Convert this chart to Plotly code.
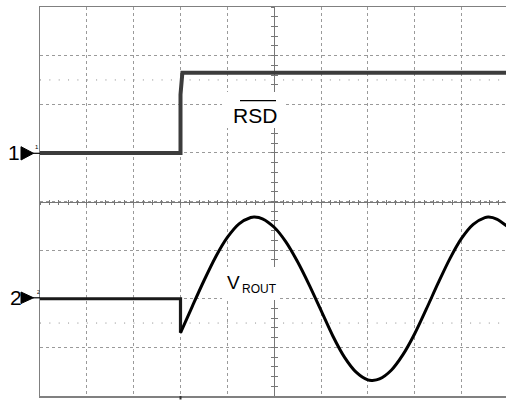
import plotly.graph_objects as go

# ---- data (time and amplitude in screen divisions) ----
ch1_time = [0.0, 3.0, 3.0, 3.04, 10.0]
ch1_level = [1.0, 1.0, 2.2, 2.65, 2.65]

ch2_time = [0.0, 3.0, 3.0, 3.25, 3.5, 3.75, 4.0, 4.25, 4.5, 4.58, 4.75, 5.0, 5.25, 5.5,
            5.75, 6.0, 6.25, 6.5, 6.75, 7.0, 7.1, 7.25, 7.5, 7.75, 8.0, 8.25, 8.5, 8.75,
            9.0, 9.25, 9.5, 9.58, 9.75, 10.0]
ch2_level = [-2.0, -2.0, -2.70, -2.16, -1.63, -1.14, -0.74, -0.46, -0.33, -0.32, -0.355,
             -0.53, -0.83, -1.24, -1.72, -2.24, -2.76, -3.20, -3.51, -3.67, -3.68, -3.65,
             -3.47, -3.15, -2.72, -2.21, -1.68, -1.18, -0.76, -0.47, -0.33, -0.32, -0.36,
             -0.53]

cursor_levels = [2.5, -2.5]
trigger_time = 3.0
ch1_label = "RSD"
ch2_label_main = "V"
ch2_label_sub = "ROUT"

X_RANGE = [0, 9.95]
Y_RANGE = [-4, 4]
W, H = 506, 400
ML, MR, MT, MB = 40, 0, 7, 4
PLEFT, PTOP = ML, MT
PW, PH = W - ML - MR, H - MT - MB
PBOTTOM = PTOP + PH
FONT = "Arial, Liberation Sans, sans-serif"


def px(x, y):
    """window pixel -> paper coordinates"""
    return (x - PLEFT) / PW, (PBOTTOM - y) / PH


fig = go.Figure()

# channel 1 (RSD) step
fig.add_trace(go.Scatter(x=ch1_time, y=ch1_level, mode="lines",
                         line=dict(color="#3c3c3c", width=4), hoverinfo="skip",
                         showlegend=False))
# channel 2 flat part and drop
fig.add_trace(go.Scatter(x=ch2_time[:3], y=ch2_level[:3], mode="lines",
                         line=dict(color="#1a1a1a", width=3.2), hoverinfo="skip",
                         showlegend=False))
# channel 2 sine
fig.add_trace(go.Scatter(x=ch2_time[2:], y=ch2_level[2:], mode="lines",
                         line=dict(color="#000000", width=3, shape="spline", smoothing=0.8),
                         hoverinfo="skip", showlegend=False))

# dummy traces to create the centre-line overlay axes
for xa, ya in (("x2", "y2"), ("x3", "y3")):
    fig.add_trace(go.Scatter(x=[None], y=[None], xaxis=xa, yaxis=ya, showlegend=False,
                             hoverinfo="skip"))

grid = dict(showgrid=True, gridcolor="#9a9a9a", griddash="dot", gridwidth=1,
            showticklabels=False, ticks="", zeroline=False, fixedrange=True)
center = dict(showgrid=False, showticklabels=False, zeroline=False, showline=True,
              linecolor="#777", linewidth=1, tickcolor="#777", tickwidth=1,
              fixedrange=True, layer="below traces", anchor="free")
cx = (5 - X_RANGE[0]) / (X_RANGE[1] - X_RANGE[0])

fig.update_layout(
    width=W, height=H, margin=dict(l=ML, r=MR, t=MT, b=MB, pad=0),
    paper_bgcolor="white", plot_bgcolor="white", showlegend=False,
    font=dict(family=FONT, color="black"), hovermode=False,
    xaxis=dict(range=X_RANGE, dtick=1, tick0=0, showline=True, mirror=True,
               linecolor="#808080", linewidth=1.5, **grid),
    yaxis=dict(range=Y_RANGE, dtick=1, tick0=0, showline=True, mirror=False,
               linecolor="#808080", linewidth=1.5, **grid),
    xaxis2=dict(range=X_RANGE, overlaying="x", position=0.5, dtick=0.2, tick0=0,
                ticks="outside", ticklen=2, **center),
    yaxis2=dict(range=Y_RANGE, overlaying="y", position=cx, dtick=0.2, tick0=0,
                ticks="outside", ticklen=3, **center),
    xaxis3=dict(range=X_RANGE, overlaying="x", position=0.5, dtick=0.2, tick0=0,
                ticks="inside", ticklen=2, **center),
    yaxis3=dict(range=Y_RANGE, overlaying="y", position=cx, dtick=0.2, tick0=0,
                ticks="inside", ticklen=3, **center),
)

shapes = []
# cursor dotted lines
for lv in cursor_levels:
    shapes.append(dict(type="line", xref="x", yref="y", x0=X_RANGE[0], x1=X_RANGE[1],
                       y0=lv, y1=lv, line=dict(color="#8a8a8a", width=1, dash="1px,8.35px"),
                       layer="below"))

# white boxes behind labels
for (x0, y0, x1, y1) in [(222, 92, 283, 128), (222, 267, 280, 300)]:
    a0, b0 = px(x0, y1)
    a1, b1 = px(x1, y0)
    shapes.append(dict(type="rect", xref="paper", yref="paper", x0=a0, x1=a1, y0=b0, y1=b1,
                       fillcolor="white", line=dict(width=0), layer="above"))

# overline of RSD
a0, b0 = px(240, 100.7)
a1, _ = px(276, 100.7)
shapes.append(dict(type="line", xref="paper", yref="paper", x0=a0, x1=a1, y0=b0, y1=b0,
                   line=dict(color="black", width=1.3), layer="above"))

# channel markers (triangles with leader)
for (cy, top, bot) in [(153.3, 146.7, 160.0), (297.8, 292.0, 303.5)]:
    p1 = px(21, top)
    p2 = px(33.5, cy)
    p3 = px(21, bot)
    shapes.append(dict(type="path", xref="paper", yref="paper",
                       path=f"M {p1[0]},{p1[1]} L {p2[0]},{p2[1]} L {p3[0]},{p3[1]} Z",
                       fillcolor="black", line=dict(color="black", width=1), layer="above"))
    q1 = px(33, cy)
    q2 = px(40, cy)
    shapes.append(dict(type="line", xref="paper", yref="paper", x0=q1[0], x1=q2[0],
                       y0=q1[1], y1=q1[1], line=dict(color="black", width=1.2), layer="above"))

# trigger mark below the screen
tx = PLEFT + trigger_time * PW / (X_RANGE[1] - X_RANGE[0])
t0 = px(tx - 1, 396)
t1 = px(tx + 1, 399.5)
shapes.append(dict(type="rect", xref="paper", yref="paper", x0=t0[0], x1=t1[0],
                   y0=t1[1], y1=t0[1], fillcolor="#333", line=dict(width=0), layer="above"))
fig.update_layout(shapes=shapes)

ann = []


def label(text, x, y, size, xanchor="center"):
    a, b = px(x, y)
    ann.append(dict(text=text, x=a, y=b, xref="paper", yref="paper", showarrow=False,
                    xanchor=xanchor, yanchor="middle", font=dict(size=size, family=FONT,
                                                                 color="black")))


label(ch1_label, 254.5, 115.5, 21)
label(ch2_label_main, 233.5, 282.5, 19)
label(ch2_label_sub, 259, 288.8, 12)
label("1", 13.5, 152.0, 21)
label("2", 15.5, 297.0, 21)
label("1", 37, 146.5, 6)
label("2", 38, 291.5, 5)
fig.update_layout(annotations=ann)

fig.write_html(
    "out.html",
    config={"displayModeBar": False, "staticPlot": True},
    post_script="document.body.style.margin='0';document.body.style.overflow='hidden';",
)
